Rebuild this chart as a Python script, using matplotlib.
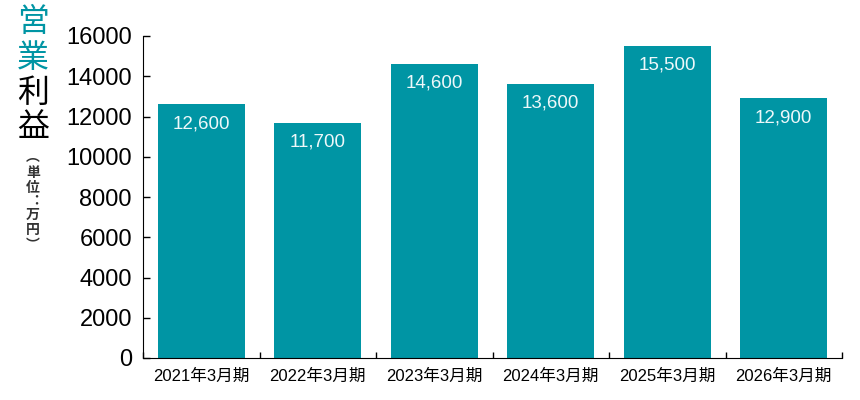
import numpy as np
import matplotlib.pyplot as plt

plt.rcParams['font.family'] = ['Liberation Sans', 'Noto Sans CJK JP']

# data
periods = ['2021年3月期', '2022年3月期', '2023年3月期', '2024年3月期', '2025年3月期', '2026年3月期']
profit = [12600, 11700, 14600, 13600, 15500, 12900]
yticks = [0, 2000, 4000, 6000, 8000, 10000, 12000, 14000, 16000]

teal = '#0095a4'

fig = plt.figure(figsize=(8.6, 4), dpi=100)
ax = fig.add_axes([143/860, 42/400, 699/860, 322/400])

x = np.arange(len(periods))
ax.bar(x, profit, width=0.75, color=teal)
for xi, v in zip(x, profit):
    ax.text(xi, v - 950, f'{v:,}', ha='center', va='center',
            color='#eef8fa', fontsize=13.5)

ax.set_xlim(-0.5, len(periods) - 0.5)
ax.set_ylim(0, 16000)
ax.set_yticks(yticks)
ax.set_yticklabels([str(t) for t in yticks], fontsize=17)
ax.set_xticks(x)
ax.set_xticklabels(periods, fontsize=12)
ax.set_xticks(np.arange(-0.5, len(periods)), minor=True)
ax.tick_params(axis='x', which='major', length=0, pad=8)
ax.tick_params(axis='x', which='minor', direction='in', length=4, width=1)
ax.tick_params(axis='y', direction='in', length=5, width=1, pad=8)
for s in ['top', 'right']:
    ax.spines[s].set_visible(False)

# vertical y label
big = [('営', teal, 23), ('業', teal, 59), ('利', 'black', 94), ('益', 'black', 128)]
for ch, c, yp in big:
    fig.text(33/860, 1 - yp/400, ch, color=c, fontsize=23, ha='center', va='center')
small = [('︵', 157), ('単', 173), ('位', 188), ('︓', 201),
         ('万', 215), ('円', 230), ('︶', 245)]
for ch, yp in small:
    fig.text(33/860, 1 - yp/400, ch, color='#333333', fontsize=10,
             family='Noto Sans CJK JP', ha='center', va='center', fontweight='bold')

fig.savefig('out.png', dpi=100)
